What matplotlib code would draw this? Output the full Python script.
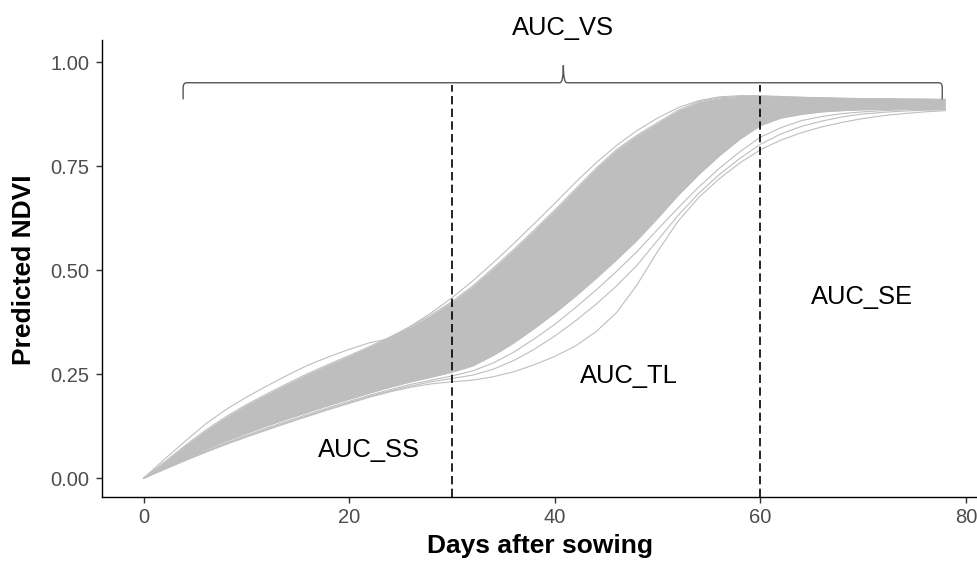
import matplotlib
matplotlib.use("Agg")
import matplotlib.pyplot as plt
from matplotlib.path import Path
from matplotlib.patches import PathPatch

plt.rcParams['font.family'] = ['Liberation Sans', 'DejaVu Sans']

# ---------------- data ----------------
days = [0, 2, 4, 6, 8, 10, 12, 14, 16, 18,
        20, 22, 24, 26, 28, 30, 32, 34, 36, 38,
        40, 42, 44, 46, 48, 50, 52, 54, 56, 58,
        60, 62, 64, 66, 68, 70, 72, 74, 76, 78]

# upper edge of the dense bundle of curves
band_upper = [0.000, 0.038, 0.078, 0.115, 0.148, 0.177, 0.203, 0.228, 0.252, 0.274,
              0.295, 0.317, 0.340, 0.365, 0.393, 0.425, 0.462, 0.505, 0.550, 0.597,
              0.645, 0.695, 0.745, 0.790, 0.825, 0.855, 0.885, 0.905, 0.915, 0.918,
              0.918, 0.917, 0.916, 0.915, 0.914, 0.913, 0.913, 0.912, 0.912, 0.911]

# lower edge of the dense bundle of curves
band_lower = [0.000, 0.024, 0.047, 0.069, 0.089, 0.108, 0.126, 0.143, 0.159, 0.175,
              0.190, 0.205, 0.219, 0.232, 0.243, 0.255, 0.270, 0.295, 0.325, 0.360,
              0.397, 0.437, 0.480, 0.525, 0.572, 0.625, 0.680, 0.730, 0.775, 0.815,
              0.848, 0.866, 0.875, 0.881, 0.884, 0.886, 0.887, 0.888, 0.888, 0.888]

# individual curves that stand apart from the bundle
curve_hump = [0.000, 0.045, 0.088, 0.130, 0.165, 0.195, 0.222, 0.248, 0.272, 0.292,
              0.310, 0.326, 0.336, 0.346, 0.362, 0.390, 0.430, 0.475, 0.522, 0.570,
              0.620, 0.670, 0.720, 0.768, 0.810, 0.845, 0.875, 0.897, 0.910, 0.916,
              0.917, 0.916, 0.915, 0.914, 0.913, 0.912, 0.912, 0.911, 0.911, 0.910]

curve_fast = [0.000, 0.036, 0.074, 0.110, 0.142, 0.170, 0.195, 0.220, 0.244, 0.267,
              0.290, 0.313, 0.338, 0.366, 0.398, 0.434, 0.474, 0.518, 0.564, 0.612,
              0.661, 0.711, 0.758, 0.800, 0.836, 0.866, 0.891, 0.908, 0.917, 0.920,
              0.920, 0.918, 0.916, 0.914, 0.913, 0.912, 0.911, 0.911, 0.910, 0.910]

curve_mid1 = [0.000, 0.0225, 0.0445, 0.0655, 0.085, 0.1035, 0.121, 0.138, 0.154, 0.170,
              0.185, 0.200, 0.213, 0.226, 0.236, 0.246, 0.258, 0.277, 0.303, 0.335,
              0.370, 0.410, 0.452, 0.497, 0.545, 0.598, 0.650, 0.700, 0.745, 0.785,
              0.820, 0.843, 0.860, 0.870, 0.877, 0.881, 0.884, 0.886, 0.887, 0.887]

curve_mid2 = [0.000, 0.022, 0.043, 0.064, 0.083, 0.101, 0.118, 0.135, 0.151, 0.167,
              0.182, 0.197, 0.210, 0.222, 0.232, 0.240, 0.248, 0.262, 0.283, 0.310,
              0.342, 0.378, 0.418, 0.462, 0.512, 0.572, 0.632, 0.685, 0.730, 0.769,
              0.803, 0.828, 0.846, 0.859, 0.869, 0.876, 0.880, 0.883, 0.885, 0.886]

curve_late = [0.000, 0.021, 0.042, 0.062, 0.081, 0.099, 0.116, 0.133, 0.149, 0.165,
              0.180, 0.195, 0.208, 0.219, 0.227, 0.232, 0.236, 0.244, 0.256, 0.273,
              0.293, 0.318, 0.352, 0.398, 0.465, 0.545, 0.618, 0.675, 0.720, 0.758,
              0.790, 0.813, 0.831, 0.845, 0.856, 0.865, 0.872, 0.877, 0.881, 0.884]

phase_breaks = [30, 60]
phase_top = 0.945

region_labels = ["AUC_SS", "AUC_TL", "AUC_SE", "AUC_VS"]
region_label_x = [21.9, 47.2, 69.9, 40.8]
region_label_y = [0.068, 0.245, 0.436, 1.082]

brace_start = 3.85
brace_end = 77.7
brace_mid = 40.84
brace_level = 0.951
brace_drop = 0.040
brace_tip = 0.042

x_ticks = [0, 20, 40, 60, 80]
y_ticks = [0.00, 0.25, 0.50, 0.75, 1.00]
y_tick_labels = ["0.00", "0.25", "0.50", "0.75", "1.00"]

# ---------------- figure ----------------
W, H = 977, 571
fig = plt.figure(figsize=(W / 100, H / 100), dpi=100)
left_px, right_px, top_px, bottom_px = 101.7, 977, 40, 497.3
ax = fig.add_axes([left_px / W, 1 - bottom_px / H,
                   (right_px - left_px) / W, (bottom_px - top_px) / H])
ax.set_xlim(-4.07, 81.08)
ax.set_ylim(-0.0457, 1.0538)

grey = '#BEBEBE'
ax.fill_between(days, band_lower, band_upper, color=grey, lw=0, zorder=1)
for c in [band_upper, band_lower, curve_hump, curve_fast,
          curve_mid1, curve_mid2, curve_late]:
    ax.plot(days, c, color=grey, lw=0.8, zorder=2, solid_capstyle='round',
            solid_joinstyle='round')

# phase boundaries
ylo = ax.get_ylim()[0]
for xb in phase_breaks:
    ax.plot([xb, xb], [ylo, phase_top], color='black', lw=1.2,
            linestyle=(0, (5, 2.6)), zorder=3, clip_on=False)

# curly brace over the whole season
xs, xe, xm = brace_start, brace_end, brace_mid
yb = brace_level
yd = yb - brace_drop
yt = yb + brace_tip
r = 0.35
w = 0.35
verts = [(xs, yd), (xs, yb - 0.012), (xs, yb), (xs + r, yb),
         (xm - w, yb), (xm, yb), (xm, yt),
         (xm, yb), (xm + w, yb),
         (xe - r, yb), (xe, yb), (xe, yb - 0.012), (xe, yd)]
codes = [Path.MOVETO, Path.LINETO, Path.CURVE3, Path.CURVE3,
         Path.LINETO, Path.CURVE3, Path.CURVE3,
         Path.CURVE3, Path.CURVE3,
         Path.LINETO, Path.CURVE3, Path.CURVE3, Path.LINETO]
ax.add_patch(PathPatch(Path(verts, codes), facecolor='none',
                       edgecolor='#555555', lw=1.0, zorder=3, clip_on=False))

for lab, lx, ly in zip(region_labels, region_label_x, region_label_y):
    ax.text(lx, ly, lab, ha='center', va='center', fontsize=18.4,
            color='black', clip_on=False)

# axes styling (ggplot classic look)
for s in ['top', 'right']:
    ax.spines[s].set_visible(False)
for s in ['left', 'bottom']:
    ax.spines[s].set_linewidth(1.0)
    ax.spines[s].set_color('black')
ax.set_xticks(x_ticks)
ax.set_yticks(y_ticks)
ax.set_yticklabels(y_tick_labels)
ax.tick_params(axis='both', length=4.5, width=1.0, color='#333333',
               labelsize=14.5, labelcolor='#4D4D4D')
ax.tick_params(axis='x', pad=3)
ax.tick_params(axis='y', pad=4.3)

fig.text(24.4 / W, 1 - 270 / H, 'Predicted NDVI', rotation=90,
         ha='center', va='center', fontsize=19, fontweight='bold')
fig.text(540 / W, 1 - 546 / H, 'Days after sowing',
         ha='center', va='center', fontsize=19, fontweight='bold')

fig.savefig('out.png', dpi=100)
